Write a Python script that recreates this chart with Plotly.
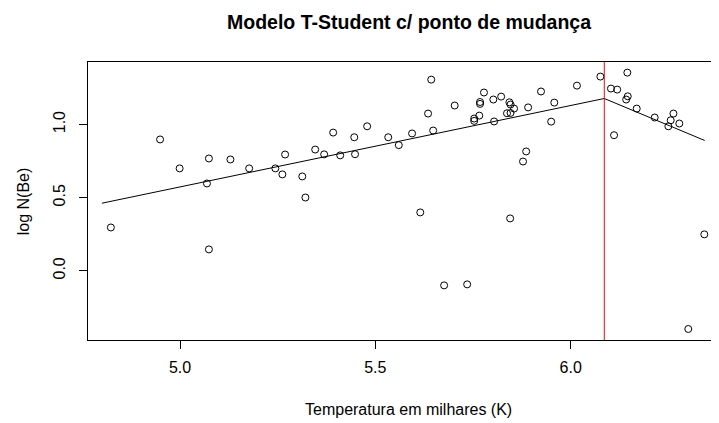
import plotly.graph_objects as go

# Observed data (temperature in thousands of K, log N(Be))
temp = [4.823, 4.949, 4.999, 5.069, 5.074, 5.074, 5.129, 5.177, 5.244, 5.262,
        5.269, 5.313, 5.321, 5.346, 5.369, 5.392, 5.410, 5.446, 5.448, 5.479,
        5.533, 5.560, 5.594, 5.615, 5.635, 5.643, 5.648, 5.676, 5.703, 5.735,
        5.753, 5.753, 5.766, 5.768, 5.768, 5.778, 5.802, 5.804, 5.822, 5.837,
        5.846, 5.843, 5.846, 5.855, 5.845, 5.878, 5.886, 5.891, 5.924, 5.950,
        5.958, 6.016, 6.076, 6.103, 6.119, 6.111, 6.145, 6.146, 6.142, 6.169,
        6.215, 6.263, 6.256, 6.250, 6.278, 6.342, 6.301]
logbe = [0.296, 0.898, 0.700, 0.597, 0.768, 0.146, 0.761, 0.700, 0.700, 0.659,
         0.795, 0.645, 0.501, 0.829, 0.796, 0.945, 0.789, 0.913, 0.797, 0.988,
         0.913, 0.859, 0.939, 0.399, 1.075, 1.307, 0.959, -0.100, 1.130, -0.093,
         1.041, 1.025, 1.061, 1.154, 1.141, 1.219, 1.171, 1.021, 1.191, 1.077,
         1.079, 1.152, 1.137, 1.109, 0.358, 0.747, 0.816, 1.117, 1.226, 1.020,
         1.150, 1.266, 1.328, 1.246, 1.239, 0.927, 1.355, 1.193, 1.171, 1.109,
         1.048, 1.075, 1.029, 0.988, 1.007, 0.249, -0.398]

# Fitted broken-line model
fit_x = [4.800, 6.086, 6.343]
fit_y = [0.462, 1.178, 0.891]
changepoint = 6.086

x_ticks = [5.0, 5.5, 6.0]
x_ticklabels = ["5.0", "5.5", "6.0"]
y_ticks = [0.0, 0.5, 1.0]
y_ticklabels = ["0.0", "0.5", "1.0"]

title_text = "Modelo T-Student c/ ponto de mudança"
x_title = "Temperatura em milhares (K)"
y_title = "log N(Be)"

FONT = "Liberation Sans, Arial, sans-serif"

fig = go.Figure()
fig.add_trace(go.Scatter(
    x=temp, y=logbe, mode="markers",
    marker=dict(symbol="circle-open", size=7, color="black", line=dict(width=1, color="black")),
    showlegend=False, hoverinfo="skip", cliponaxis=False))
fig.add_trace(go.Scatter(
    x=fit_x, y=fit_y, mode="lines",
    line=dict(color="black", width=1),
    showlegend=False, hoverinfo="skip"))

fig.add_shape(type="line", xref="x", yref="paper", x0=changepoint, x1=changepoint,
              y0=0, y1=1, line=dict(color="red", width=1))

fig.update_layout(
    width=711, height=415,
    margin=dict(l=80, r=0, t=54, b=83),
    paper_bgcolor="white", plot_bgcolor="white",
    font=dict(family=FONT, size=16, color="black"),
    xaxis=dict(range=[4.7645, 6.3796], tickvals=x_ticks, ticktext=x_ticklabels,
               ticks="outside", ticklen=8, tickcolor="black", tickwidth=1,
               showline=True, linecolor="black", linewidth=1, mirror=True,
               showgrid=False, zeroline=False, ticklabelstandoff=5),
    yaxis=dict(range=[-0.4734, 1.4276], tickvals=y_ticks, ticktext=y_ticklabels,
               ticks="outside", ticklen=8, tickcolor="black", tickwidth=1,
               tickangle=-90,
               showline=True, linecolor="black", linewidth=1, mirror=False,
               showgrid=False, zeroline=False, ticklabelstandoff=8),
    annotations=[
        dict(text="<b>" + title_text + "</b>", xref="paper", yref="paper",
             x=0.5087, y=(340 - 22) / 278, xanchor="center", yanchor="middle",
             showarrow=False, font=dict(size=19.5, family=FONT, color="black")),
        dict(text=x_title, xref="paper", yref="paper",
             x=0.5087, y=(340 - 409) / 278, xanchor="center", yanchor="middle",
             showarrow=False, font=dict(size=16, family=FONT, color="black")),
        dict(text=y_title, xref="paper", yref="paper", textangle=-90,
             x=(23.3 - 88) / 631, y=0.5, xanchor="center", yanchor="middle",
             showarrow=False, font=dict(size=16, family=FONT, color="black")),
    ],
)

fig.write_html("out.html")
